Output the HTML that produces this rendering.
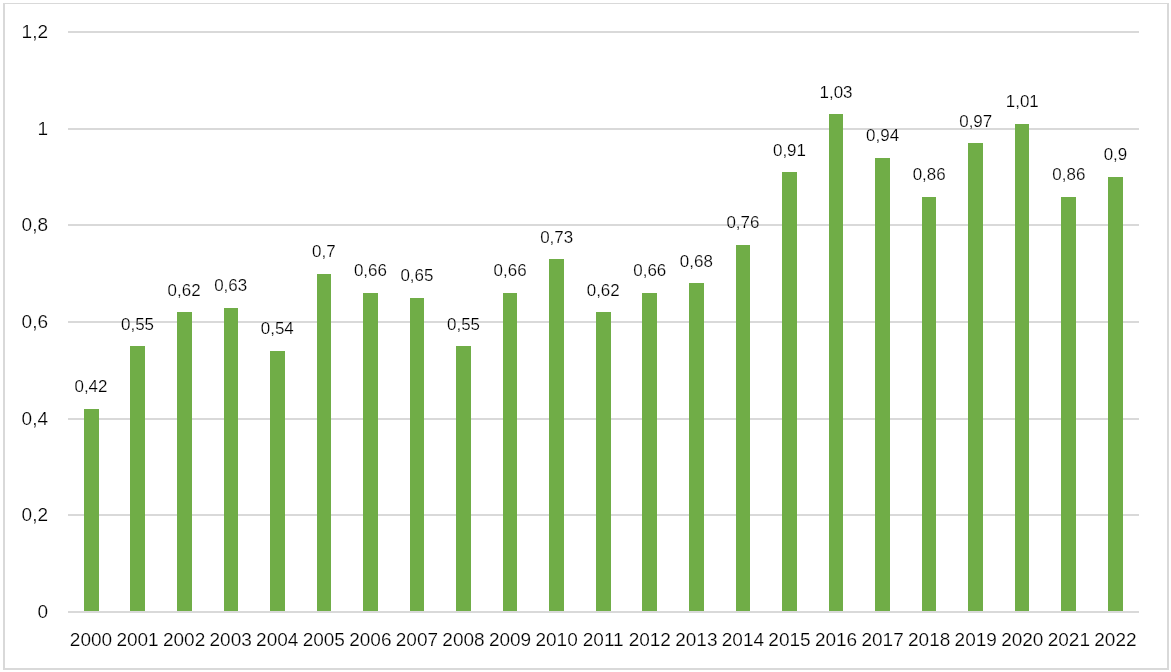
<!DOCTYPE html>
<html lang="en"><head><meta charset="utf-8"><title>Chart</title>
<style>
html,body{margin:0;padding:0;background:#fff;}
body{width:1171px;height:672px;overflow:hidden;}
svg{display:block;will-change:transform;}
text{font-family:"Liberation Sans",sans-serif;fill:#000000;stroke:#fff;stroke-width:0.2px;paint-order:fill stroke;}
.ax{font-size:19.0px;}
.dl{font-size:17.3px;}
</style></head><body>
<svg width="1171" height="672" viewBox="0 0 1171 672">
<rect x="0" y="0" width="1171" height="672" fill="#ffffff"/>
<rect x="3" y="3" width="1166" height="1" fill="#d9d9d9"/>
<rect x="3" y="3" width="2" height="667" fill="#d9d9d9"/>
<rect x="1167" y="3" width="2" height="667" fill="#d9d9d9"/>
<rect x="3" y="668" width="1166" height="2" fill="#d9d9d9"/>
<rect x="68" y="31" width="1071" height="2" fill="#d9d9d9"/>
<rect x="68" y="128" width="1071" height="2" fill="#d9d9d9"/>
<rect x="68" y="224" width="1071" height="2" fill="#d9d9d9"/>
<rect x="68" y="321" width="1071" height="2" fill="#d9d9d9"/>
<rect x="68" y="418" width="1071" height="2" fill="#d9d9d9"/>
<rect x="68" y="514" width="1071" height="2" fill="#d9d9d9"/>
<rect x="84" y="409" width="15" height="203" fill="#70ad47"/>
<rect x="130" y="346" width="15" height="266" fill="#70ad47"/>
<rect x="177" y="312" width="15" height="300" fill="#70ad47"/>
<rect x="224" y="308" width="14" height="304" fill="#70ad47"/>
<rect x="270" y="351" width="15" height="261" fill="#70ad47"/>
<rect x="317" y="274" width="14" height="338" fill="#70ad47"/>
<rect x="363" y="293" width="15" height="319" fill="#70ad47"/>
<rect x="410" y="298" width="14" height="314" fill="#70ad47"/>
<rect x="456" y="346" width="15" height="266" fill="#70ad47"/>
<rect x="503" y="293" width="14" height="319" fill="#70ad47"/>
<rect x="549" y="259" width="15" height="353" fill="#70ad47"/>
<rect x="596" y="312" width="15" height="300" fill="#70ad47"/>
<rect x="642" y="293" width="15" height="319" fill="#70ad47"/>
<rect x="689" y="283" width="15" height="329" fill="#70ad47"/>
<rect x="736" y="245" width="14" height="367" fill="#70ad47"/>
<rect x="782" y="172" width="15" height="440" fill="#70ad47"/>
<rect x="829" y="114" width="14" height="498" fill="#70ad47"/>
<rect x="875" y="158" width="15" height="454" fill="#70ad47"/>
<rect x="922" y="197" width="14" height="415" fill="#70ad47"/>
<rect x="968" y="143" width="15" height="469" fill="#70ad47"/>
<rect x="1015" y="124" width="14" height="488" fill="#70ad47"/>
<rect x="1061" y="197" width="15" height="415" fill="#70ad47"/>
<rect x="1108" y="177" width="15" height="435" fill="#70ad47"/>
<rect x="68" y="611" width="1071" height="2" fill="#d9d9d9"/>
<text class="ax" x="48.0" y="38.2" text-anchor="end">1,2</text>
<text class="ax" x="48.0" y="135.2" text-anchor="end">1</text>
<text class="ax" x="48.0" y="231.2" text-anchor="end">0,8</text>
<text class="ax" x="48.0" y="328.2" text-anchor="end">0,6</text>
<text class="ax" x="48.0" y="425.2" text-anchor="end">0,4</text>
<text class="ax" x="48.0" y="521.2" text-anchor="end">0,2</text>
<text class="ax" x="48.0" y="618.2" text-anchor="end">0</text>
<text class="ax" x="90.98" y="645.6" text-anchor="middle">2000</text>
<text class="ax" x="137.55" y="645.6" text-anchor="middle">2001</text>
<text class="ax" x="184.11" y="645.6" text-anchor="middle">2002</text>
<text class="ax" x="230.68" y="645.6" text-anchor="middle">2003</text>
<text class="ax" x="277.24" y="645.6" text-anchor="middle">2004</text>
<text class="ax" x="323.81" y="645.6" text-anchor="middle">2005</text>
<text class="ax" x="370.37" y="645.6" text-anchor="middle">2006</text>
<text class="ax" x="416.94" y="645.6" text-anchor="middle">2007</text>
<text class="ax" x="463.50" y="645.6" text-anchor="middle">2008</text>
<text class="ax" x="510.07" y="645.6" text-anchor="middle">2009</text>
<text class="ax" x="556.63" y="645.6" text-anchor="middle">2010</text>
<text class="ax" x="603.20" y="645.6" text-anchor="middle">2011</text>
<text class="ax" x="649.77" y="645.6" text-anchor="middle">2012</text>
<text class="ax" x="696.33" y="645.6" text-anchor="middle">2013</text>
<text class="ax" x="742.90" y="645.6" text-anchor="middle">2014</text>
<text class="ax" x="789.46" y="645.6" text-anchor="middle">2015</text>
<text class="ax" x="836.03" y="645.6" text-anchor="middle">2016</text>
<text class="ax" x="882.59" y="645.6" text-anchor="middle">2017</text>
<text class="ax" x="929.16" y="645.6" text-anchor="middle">2018</text>
<text class="ax" x="975.72" y="645.6" text-anchor="middle">2019</text>
<text class="ax" x="1022.29" y="645.6" text-anchor="middle">2020</text>
<text class="ax" x="1068.85" y="645.6" text-anchor="middle">2021</text>
<text class="ax" x="1115.42" y="645.6" text-anchor="middle">2022</text>
<text class="dl" transform="translate(90.98 391.90) scale(0.98 1)" text-anchor="middle">0,42</text>
<text class="dl" transform="translate(137.55 329.55) scale(0.98 1)" text-anchor="middle">0,55</text>
<text class="dl" transform="translate(184.11 295.60) scale(0.98 1)" text-anchor="middle">0,62</text>
<text class="dl" transform="translate(230.68 290.50) scale(0.98 1)" text-anchor="middle">0,63</text>
<text class="dl" transform="translate(277.24 333.70) scale(0.98 1)" text-anchor="middle">0,54</text>
<text class="dl" transform="translate(323.81 257.00) scale(0.98 1)" text-anchor="middle">0,7</text>
<text class="dl" transform="translate(370.37 275.50) scale(0.98 1)" text-anchor="middle">0,66</text>
<text class="dl" transform="translate(416.94 280.60) scale(0.98 1)" text-anchor="middle">0,65</text>
<text class="dl" transform="translate(463.50 329.55) scale(0.98 1)" text-anchor="middle">0,55</text>
<text class="dl" transform="translate(510.07 275.50) scale(0.98 1)" text-anchor="middle">0,66</text>
<text class="dl" transform="translate(556.63 242.80) scale(0.98 1)" text-anchor="middle">0,73</text>
<text class="dl" transform="translate(603.20 295.60) scale(0.98 1)" text-anchor="middle">0,62</text>
<text class="dl" transform="translate(649.77 275.50) scale(0.98 1)" text-anchor="middle">0,66</text>
<text class="dl" transform="translate(696.33 266.60) scale(0.98 1)" text-anchor="middle">0,68</text>
<text class="dl" transform="translate(742.90 227.80) scale(0.98 1)" text-anchor="middle">0,76</text>
<text class="dl" transform="translate(789.46 155.90) scale(0.98 1)" text-anchor="middle">0,91</text>
<text class="dl" transform="translate(836.03 97.96) scale(0.98 1)" text-anchor="middle">1,03</text>
<text class="dl" transform="translate(882.59 140.80) scale(0.98 1)" text-anchor="middle">0,94</text>
<text class="dl" transform="translate(929.16 180.00) scale(0.98 1)" text-anchor="middle">0,86</text>
<text class="dl" transform="translate(975.72 126.50) scale(0.98 1)" text-anchor="middle">0,97</text>
<text class="dl" transform="translate(1022.29 106.80) scale(0.98 1)" text-anchor="middle">1,01</text>
<text class="dl" transform="translate(1068.85 180.00) scale(0.98 1)" text-anchor="middle">0,86</text>
<text class="dl" transform="translate(1115.42 160.00) scale(0.98 1)" text-anchor="middle">0,9</text>
</svg>
</body></html>
